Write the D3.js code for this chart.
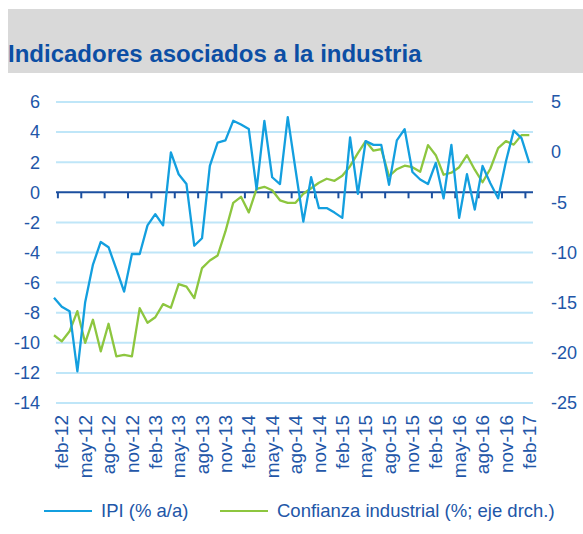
<!DOCTYPE html>
<html>
<head>
<meta charset="utf-8">
<script src="https://cdn.jsdelivr.net/npm/d3@7"></script>
<style>
  body { margin: 0; background: #fff; }
  text { font-family: "Liberation Sans", Arial, sans-serif; }
</style>
</head>
<body>
<div id="chart"></div>
<script>
// months jan-12 .. feb-17
var monthNames = ["ene","feb","mar","abr","may","jun","jul","ago","sep","oct","nov","dic"];
var months = [];
for (var yr = 12; yr <= 17; yr++) {
  for (var m = 0; m < 12; m++) {
    if (yr == 17 && m > 1) break;
    months.push(monthNames[m] + "-" + yr);
  }
}

var ipi = [-7.0, -7.6, -7.9, -11.9, -7.3, -4.8, -3.3, -3.65, -5.1, -6.6,
  -4.1, -4.1, -2.2, -1.45, -2.2, 2.65, 1.2, 0.55, -3.55, -3.05,
  1.75, 3.3, 3.45, 4.75, 4.5, 4.2, 0.2, 4.75, 1.0, 0.55,
  5.0, 1.5, -1.95, 1.0, -1.05, -1.05, -1.35, -1.7, 3.65, -0.1,
  3.4, 3.15, 3.15, 0.5, 3.45, 4.2, 1.35, 0.85, 0.55, 1.95,
  -0.4, 3.15, -1.7, 1.2, -1.15, 1.75, 0.6, -0.4, 2.05, 4.1,
  3.6, 1.95];

var confianza = [-18.25, -18.85, -17.85, -15.85, -19.0, -16.7, -19.85, -17.1, -20.35, -20.2,
  -20.35, -15.55, -17.0, -16.45, -15.15, -15.5, -13.15, -13.4, -14.55, -11.55,
  -10.8, -10.3, -7.9, -5.05, -4.45, -6.0, -3.65, -3.45, -3.8, -4.8,
  -5.05, -5.05, -4.15, -3.6, -3.05, -2.65, -2.85, -2.35, -1.4, -0.1,
  1.1, 0.15, 0.3, -2.4, -1.7, -1.35, -1.5, -1.95, 0.7, -0.3,
  -2.25, -2.05, -1.5, -0.3, -1.75, -3.0, -1.65, 0.4, 1.1, 0.75,
  1.7, 1.7];

var leftTicks = [6, 4, 2, 0, -2, -4, -6, -8, -10, -12, -14];
var rightTicks = [5, 0, -5, -10, -15, -20, -25];
var title = "Indicadores asociados a la industria";
var seriesNames = ["IPI (% a/a)", "Confianza industrial (%; eje drch.)"];

var W = 583, H = 534;
var blue = "#139fdf", green = "#8dc63f", axisBlue = "#2256a8";

var svg = d3.select("#chart").append("svg")
  .attr("width", W).attr("height", H);

// title band
svg.append("rect").attr("x", 8).attr("y", 9).attr("width", W - 8).attr("height", 64)
  .attr("fill", "#d9d9d9");
svg.append("text").attr("x", 8).attr("y", 62)
  .attr("fill", "#0c4ea4").attr("font-size", 24).attr("font-weight", "bold")
  .text(title);

var gx0 = 56, gx1 = 533;
var y = d3.scaleLinear().domain([-14, 6]).range([403, 102]);
var y2 = d3.scaleLinear().domain([-25, 5]).range([403, 102]);
var x = d3.scalePoint().domain(months).range([54, 529.3]);
var step = x.step();

// gridlines
svg.append("g").selectAll("line")
  .data(leftTicks.filter(function(d) { return d != 0; }))
  .enter().append("line")
    .attr("x1", gx0).attr("x2", gx1)
    .attr("y1", function(d) { return y(d); })
    .attr("y2", function(d) { return y(d); })
    .attr("stroke", "#bfe6f8").attr("stroke-width", 2);

// left labels
svg.append("g").selectAll("text")
  .data(leftTicks).enter().append("text")
    .attr("x", 40).attr("y", function(d) { return y(d); })
    .attr("dy", "0.35em").attr("text-anchor", "end")
    .attr("font-size", 18).attr("fill", axisBlue)
    .text(function(d) { return d; });

// right labels
svg.append("g").selectAll("text")
  .data(rightTicks).enter().append("text")
    .attr("x", 551).attr("y", function(d) { return y2(d); })
    .attr("dy", "0.35em").attr("text-anchor", "start")
    .attr("font-size", 18).attr("fill", axisBlue)
    .text(function(d) { return d; });

// zero axis line + ticks
svg.append("line").attr("x1", gx0).attr("x2", gx1)
  .attr("y1", y(0)).attr("y2", y(0))
  .attr("stroke", "#1b4f9f").attr("stroke-width", 2);

var tickMonths = months.filter(function(d, i) { return i % 3 == 0 && i < months.length - 1; });
svg.append("g").selectAll("line")
  .data(tickMonths).enter().append("line")
    .attr("x1", function(d) { return x(d) + step / 2; })
    .attr("x2", function(d) { return x(d) + step / 2; })
    .attr("y1", y(0)).attr("y2", y(0) + 6)
    .attr("stroke", "#1b4f9f").attr("stroke-width", 2);

// x labels
var labelMonths = months.filter(function(d, i) { return i % 3 == 1; });
svg.append("g").selectAll("text")
  .data(labelMonths).enter().append("text")
    .attr("transform", function(d) { return "translate(" + x(d) + ",415) rotate(-90)"; })
    .attr("dy", "0.35em").attr("text-anchor", "end")
    .attr("font-size", 19).attr("fill", axisBlue)
    .text(function(d) { return d; });

// lines
svg.append("path")
  .datum(confianza)
  .attr("fill", "none").attr("stroke", green).attr("stroke-width", 2.3)
  .attr("stroke-linejoin", "round")
  .attr("d", d3.line()
    .x(function(d, i) { return x(months[i]); })
    .y(function(d) { return y2(d); }));

svg.append("path")
  .datum(ipi)
  .attr("fill", "none").attr("stroke", blue).attr("stroke-width", 2.3)
  .attr("stroke-linejoin", "round")
  .attr("d", d3.line()
    .x(function(d, i) { return x(months[i]); })
    .y(function(d) { return y(d); }));

// legend
var legend = [
  {name: seriesNames[0], color: blue, x: 44},
  {name: seriesNames[1], color: green, x: 220}
];
var lg = svg.append("g").selectAll("g").data(legend).enter().append("g");
lg.append("line")
  .attr("x1", function(d) { return d.x; }).attr("x2", function(d) { return d.x + 48; })
  .attr("y1", 511).attr("y2", 511)
  .attr("stroke", function(d) { return d.color; }).attr("stroke-width", 2);
lg.append("text")
  .attr("x", function(d) { return d.x + 57; }).attr("y", 511)
  .attr("dy", "0.35em").attr("font-size", 18.5).attr("fill", axisBlue)
  .text(function(d) { return d.name; });
</script>
</body>
</html>
